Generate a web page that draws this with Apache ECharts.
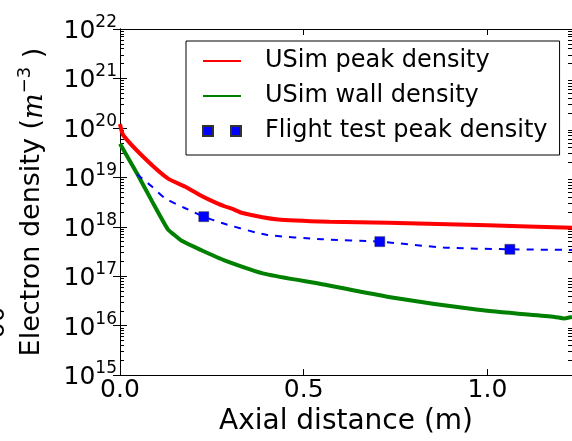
<!DOCTYPE html>
<html>
<head>
<meta charset="utf-8">
<script src="https://cdn.jsdelivr.net/npm/echarts@6/dist/echarts.min.js"></script>
<style>
  html, body { margin: 0; padding: 0; background: #fff; }
  #chart { width: 572px; height: 441px; }
</style>
</head>
<body>
<div id="chart"></div>
<script>
// USim peak density
const peakX = [0, 0.009, 0.068, 0.13, 0.18, 0.217, 0.244, 0.284, 0.306, 0.333, 0.43, 0.57, 0.73, 1.0, 1.23];
const peakY = [1.2e20, 7.1e19, 2.4e19, 9.5e18, 6.3e18, 4.4e18, 3.5e18, 2.6e18, 2.3e18, 1.9e18, 1.4e18, 1.26e18, 1.2e18, 1.07e18, 9.5e17];

// USim wall density
const wallX = [0, 0.049, 0.087, 0.13, 0.145, 0.168, 0.22, 0.284, 0.398, 0.55, 0.731, 0.975, 1.183, 1.21, 1.23];
const wallY = [4.8e19, 1.1e19, 3.3e18, 8.9e17, 7.1e17, 5.2e17, 3.4e17, 2.1e17, 1.1e17, 6.9e16, 3.8e16, 2.1e16, 1.5e16, 1.4e16, 1.5e16];

// dashed fit through the flight data
const fitX = [0.046, 0.086, 0.122, 0.176, 0.228, 0.284, 0.398, 0.55, 0.707, 0.88, 1.061, 1.23];
const fitY = [1.15e19, 6.6e18, 3.8e18, 2.4e18, 1.6e18, 1.15e18, 6.9e17, 5.6e17, 5.0e17, 3.8e17, 3.5e17, 3.4e17];

// Flight test peak density
const flightX = [0.228, 0.707, 1.061];
const flightY = [1.6e18, 5.0e17, 3.5e17];

const xTicks = [0, 0.5, 1.0];

// minor ticks of the log axis: 2..9 x 10^k
const minorTicks = [];
for (let k = 15; k < 22; k++) {
  for (let m = 2; m <= 9; m++) minorTicks.push(m * Math.pow(10, k));
}

const zip = (xs, ys) => xs.map((x, i) => [x, ys[i]]);
const font = 'DejaVu Sans';

const chart = echarts.init(document.getElementById('chart'));

const tickRich = {
  b: { fontFamily: font, fontSize: 25, color: '#000', lineHeight: 30, verticalAlign: 'bottom' },
  s: { fontFamily: font, fontSize: 17, color: '#000', lineHeight: 17, verticalAlign: 'top' }
};

const logAxis = (pos, extra) => Object.assign({
  type: 'log',
  logBase: 10,
  min: 1e15,
  max: 1e22,
  position: pos,
  axisLine: { show: true, lineStyle: { color: '#000', width: 1 } },
  axisTick: { inside: true, length: 7, lineStyle: { color: '#000' } },
  axisLabel: { show: false },
  splitLine: { show: false }
}, extra);

const minorAxis = pos => logAxis(pos, {
  axisLine: { show: false },
  axisTick: { inside: true, length: 4, customValues: minorTicks, lineStyle: { color: '#000' } }
});

const option = {
  animation: false,
  textStyle: { fontFamily: font },
  grid: { left: 120, top: 29, width: 454, height: 350 },
  legend: {
    left: 186,
    top: 41,
    orient: 'vertical',
    backgroundColor: '#fff',
    borderColor: '#000',
    borderWidth: 1,
    padding: [8, 12, 12, 16],
    itemWidth: 38,
    itemHeight: 10,
    itemGap: 11,
    textStyle: { fontFamily: font, fontSize: 24, color: '#000', padding: [0, 0, 0, 19], lineHeight: 24 },
    data: [
      { name: 'USim peak density', itemStyle: { opacity: 0 } },
      { name: 'USim wall density', itemStyle: { opacity: 0 } },
      { name: 'Flight test peak density', icon: 'path://M0,0h10v10h-10zM28,0h10v10h-10z' }
    ]
  },
  xAxis: [
    {
      type: 'value',
      min: 0,
      max: 1.23,
      interval: 0.5,
      name: 'Axial distance (m)',
      nameLocation: 'middle',
      nameGap: 31,
      nameTextStyle: { fontFamily: font, fontSize: 28, color: '#000' },
      axisLine: { lineStyle: { color: '#000', width: 1 } },
      axisTick: { inside: true, length: 6, lineStyle: { color: '#000' } },
      axisLabel: {
        margin: 3, fontFamily: font, fontSize: 25, color: '#000', showMaxLabel: false,
        formatter: v => xTicks.includes(v) ? v.toFixed(1) : ''
      },
      splitLine: { show: false }
    },
    {
      type: 'value',
      position: 'top',
      min: 0,
      max: 1.23,
      interval: 0.5,
      axisLine: { lineStyle: { color: '#000', width: 1 } },
      axisTick: { inside: true, length: 6, lineStyle: { color: '#000' } },
      axisLabel: { show: false },
      splitLine: { show: false }
    }
  ],
  yAxis: [
    logAxis('left', {
      name: 'Electron density ({i|m}{s|−3}{n| )}',
      nameLocation: 'middle',
      nameRotate: 90,
      nameGap: 72,
      nameTextStyle: {
        fontFamily: font, fontSize: 27, color: '#000',
        rich: {
          i: { fontFamily: 'DejaVu Serif', fontStyle: 'italic', fontSize: 27, color: '#000', lineHeight: 32, verticalAlign: 'bottom' },
          s: { fontFamily: font, fontSize: 18, color: '#000', lineHeight: 18, verticalAlign: 'top' },
          n: { fontFamily: font, fontSize: 27, color: '#000', lineHeight: 32, verticalAlign: 'bottom' }
        }
      },
      axisLabel: {
        margin: 3,
        formatter: v => '{b|10}{s|' + Math.round(Math.log10(v)) + '}',
        rich: tickRich
      }
    }),
    logAxis('right', {}),
    minorAxis('left'),
    minorAxis('right')
  ],
  graphic: [
    {
      type: 'text',
      x: -15,
      y: 338,
      rotation: Math.PI / 2,
      style: { text: 'σ0', fontFamily: font, fontSize: 25, fill: '#000' }
    }
  ],
  series: [
    {
      name: 'USim peak density',
      type: 'line',
      data: zip(peakX, peakY),
      symbol: 'none',
      smooth: 0.2,
      lineStyle: { color: '#ff0000', width: 4 },
      itemStyle: { color: '#ff0000' }
    },
    {
      name: 'USim wall density',
      type: 'line',
      data: zip(wallX, wallY),
      symbol: 'none',
      smooth: 0.2,
      lineStyle: { color: '#008000', width: 4 },
      itemStyle: { color: '#008000' }
    },
    {
      name: 'fit',
      type: 'line',
      data: zip(fitX, fitY),
      symbol: 'none',
      smooth: 0.2,
      lineStyle: { color: '#0000ff', width: 2, type: [7, 7] }
    },
    {
      name: 'Flight test peak density',
      type: 'scatter',
      data: zip(flightX, flightY),
      symbol: 'rect',
      symbolSize: 10,
      itemStyle: { color: '#0000ff', opacity: 1, borderColor: '#333', borderWidth: 0.5 }
    }
  ]
};

chart.setOption(option);
</script>
</body>
</html>
